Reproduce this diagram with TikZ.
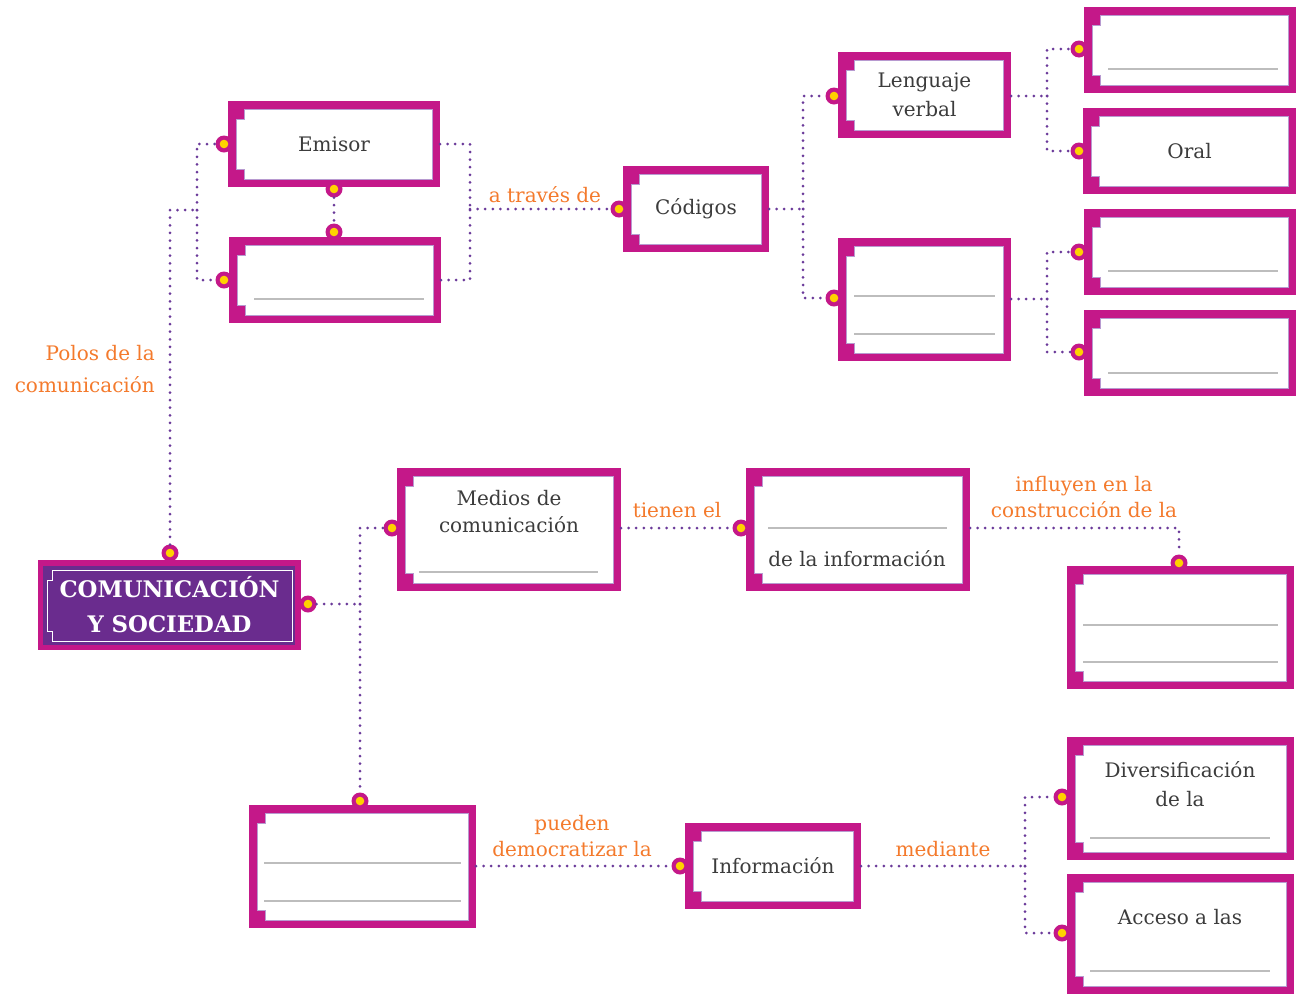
\documentclass[tikz,border=0pt]{standalone}
\usepackage{fontspec}
\setmainfont{DejaVu Serif}
\usetikzlibrary{calc}
\definecolor{mag}{HTML}{C41889}
\definecolor{purp}{HTML}{6A2C8E}
\definecolor{dotc}{HTML}{6B3A9A}
\definecolor{orng}{HTML}{F47A2C}
\definecolor{yel}{HTML}{FFD200}
\definecolor{txtc}{HTML}{3C3C3C}
\definecolor{lgray}{HTML}{BDBDBD}
\definecolor{inl}{HTML}{B89AD0}
\newcommand\bxf{\fontsize{20}{29}\selectfont}
\newcommand\lbf{\fontsize{20}{26}\selectfont}
\newcommand\rtf{\fontsize{22.8}{35}\selectfont\bfseries}
\tikzset{
  sz/.style 2 args={minimum width=#1pt, minimum height=#2pt},
  cbox/.style={rectangle, inner sep=0pt, outer sep=0pt, fill=mag, text=txtc,
    align=center, font=\bxf,
    path picture={
      \coordinate (q1) at (path picture bounding box.south west);
      \coordinate (q2) at (path picture bounding box.south east);
      \coordinate (q3) at (path picture bounding box.north east);
      \coordinate (q4) at (path picture bounding box.north west);
      \filldraw[fill=white, draw=inl, line width=0.6pt]
        ([shift={(16pt,8pt)}]q1) -- ([shift={(-8pt,8pt)}]q2) --
        ([shift={(-8pt,-8pt)}]q3) -- ([shift={(16pt,-8pt)}]q4) --
        ([shift={(16pt,-18pt)}]q4) -- ([shift={(8pt,-18pt)}]q4) --
        ([shift={(8pt,18pt)}]q1) -- ([shift={(16pt,18pt)}]q1) -- cycle;
    }},
  rootbox/.style={rectangle, inner sep=0pt, outer sep=0pt, fill=mag, text=white,
    align=center, font=\rtf,
    path picture={
      \coordinate (q1) at (path picture bounding box.south west);
      \coordinate (q2) at (path picture bounding box.south east);
      \coordinate (q3) at (path picture bounding box.north east);
      \coordinate (q4) at (path picture bounding box.north west);
      \fill[purp]
        ([shift={(5pt,5pt)}]q1) -- ([shift={(-6pt,5pt)}]q2) --
        ([shift={(-6pt,-6pt)}]q3) -- ([shift={(5pt,-6pt)}]q4) -- cycle;
      \draw[white, line width=0.9pt]
        ([shift={(14pt,9pt)}]q1) -- ([shift={(-9pt,9pt)}]q2) --
        ([shift={(-9pt,-10pt)}]q3) -- ([shift={(14pt,-10pt)}]q4) --
        ([shift={(14pt,-20pt)}]q4) -- ([shift={(9pt,-20pt)}]q4) --
        ([shift={(9pt,19pt)}]q1) -- ([shift={(14pt,19pt)}]q1) -- cycle;
    }},
  dot/.style={circle, fill=mag, minimum size=17pt, inner sep=0pt, outer sep=0pt,
    path picture={\fill[yel] (path picture bounding box.center) circle (4.3pt);}},
  conn/.style={draw=dotc, line width=3pt, line cap=round, dash pattern=on 0pt off 7.6pt},
  wline/.style={draw=lgray, line width=1.2pt},
  lab/.style={text=orng, font=\lbf, align=center, inner sep=0pt},
  btxt/.style={text=txtc, font=\bxf, align=center, inner sep=0pt}
}
\begin{document}
\begin{tikzpicture}[x=1pt, y=-1pt]
\useasboundingbox[fill=white] (0,0) rectangle (1298,994);

% boxes
\node[cbox, sz={212}{86}] (emisor) at (334,144) {Emisor};
\node[cbox, sz={212}{86}] (b2) at (335,280) {};
\node[cbox, sz={146}{86}] (cod) at (696,209) {Códigos};
\node[cbox, sz={173}{86}] (lv) at (924.5,95) {Lenguaje\\verbal};
\node[cbox, sz={212}{86}] (r1) at (1190,50) {};
\node[cbox, sz={213}{86}] (oral) at (1189.5,151) {Oral};
\node[cbox, sz={212}{86}] (r3) at (1190,252) {};
\node[cbox, sz={212}{86}] (r4) at (1190,353) {};
\node[cbox, sz={173}{123}] (b9) at (924.5,299.5) {};
\node[rootbox, sz={263}{90}] (root) at (169.5,605) {COMUNICACIÓN\\Y SOCIEDAD};
\node[cbox, sz={224}{123}] (med) at (509,529.5) {};
\node[cbox, sz={224}{123}] (dli) at (858,529.5) {};
\node[cbox, sz={227}{123}] (rb) at (1180.5,627.5) {};
\node[cbox, sz={227}{123}] (bl) at (362.5,866.5) {};
\node[cbox, sz={176}{86}] (inf) at (773,866) {Información};
\node[cbox, sz={227}{123}] (dv) at (1180.5,798.5) {};
\node[cbox, sz={227}{120}] (ac) at (1180.5,934) {};

% texts inside boxes
\node[btxt, font={\fontsize{20}{27}\selectfont}] (medt) at (509,511.5) {Medios de\\comunicación};
\node[btxt] (dlit) at (857,559) {de la información};
\node[btxt] (dvt) at (1180,784.5) {Diversificación\\de la};
\node[btxt] (act) at (1180,917) {Acceso a las};

% write-in lines
\draw[wline] (254,299) -- (424,299);
\draw[wline] (1108,69) -- (1278,69);
\draw[wline] (1108,271) -- (1278,271);
\draw[wline] (1108,373) -- (1278,373);
\draw[wline] (854,296) -- (995,296);
\draw[wline] (854,334) -- (995,334);
\draw[wline] (419,572) -- (598,572);
\draw[wline] (768,528) -- (947,528);
\draw[wline] (1083,625) -- (1278,625);
\draw[wline] (1083,662) -- (1278,662);
\draw[wline] (264,863) -- (461,863);
\draw[wline] (264,901) -- (461,901);
\draw[wline] (1090,838) -- (1270,838);
\draw[wline] (1090,971) -- (1270,971);

% dots
\node[dot] (rdt) at (170,553) {};
\node[dot] (rdr) at (308,604) {};
\node[dot] (emd) at (224,144) {};
\node[dot] (emb) at (334,189) {};
\node[dot] (b2t) at (334,232) {};
\node[dot] (b2d) at (224,280) {};
\node[dot] (codd) at (619,209) {};
\node[dot] (lvd) at (834,96) {};
\node[dot] (b9d) at (834,298) {};
\node[dot] (r1d) at (1079,49) {};
\node[dot] (orald) at (1079,151) {};
\node[dot] (r3d) at (1079,252) {};
\node[dot] (r4d) at (1079,352) {};
\node[dot] (medd) at (392,528) {};
\node[dot] (dlid) at (741,528) {};
\node[dot] (rbd) at (1179,563) {};
\node[dot] (bld) at (360,801) {};
\node[dot] (infd) at (680,866) {};
\node[dot] (dvd) at (1062,797) {};
\node[dot] (acd) at (1062,933) {};

% junctions
\coordinate (j1) at (197,210);
\coordinate (j2) at (470,209);
\coordinate (j3) at (803,209);
\coordinate (j4) at (1047,96);
\coordinate (j5) at (1047,299);
\coordinate (j6) at (360,604);
\coordinate (j7) at (1025,866);

% connectors
\draw[conn] (rdt) |- (j1);
\draw[conn] (j1) |- (emd);
\draw[conn] (j1) |- (b2d);
\draw[conn] (emb) -- (b2t);
\draw[conn] (emisor.east) -| (j2);
\draw[conn] (b2.east) -| (j2);
\draw[conn] (j2) -- (codd);
\draw[conn] (cod.east) -- (j3);
\draw[conn] (j3) |- (lvd);
\draw[conn] (j3) |- (b9d);
\draw[conn] (lv.east |- j4) -- (j4);
\draw[conn] (j4) |- (r1d);
\draw[conn] (j4) |- (orald);
\draw[conn] (b9.east |- j5) -- (j5);
\draw[conn] (j5) |- (r3d);
\draw[conn] (j5) |- (r4d);
\draw[conn] (rdr) -- (j6);
\draw[conn] (j6) |- (medd);
\draw[conn] (j6) -- (bld);
\draw[conn] (med.east |- medd) -- (dlid);
\draw[conn] (dli.east |- dlid) -| (rbd);
\draw[conn] (bl.east |- infd) -- (infd);
\draw[conn] (inf.east) -- (j7);
\draw[conn] (j7) |- (dvd);
\draw[conn] (j7) |- (acd);

% labels
\node[lab] (l1) at (545,195) {a través de};
\node[lab, anchor=east, align=right, font={\fontsize{20}{32}\selectfont}] (l2) at (155,369) {Polos de la\\comunicación};
\node[lab] (l3) at (677,510) {tienen el};
\node[lab] (l4) at (1084,497) {influyen en la\\construcción de la};
\node[lab] (l5) at (572,836) {pueden\\democratizar la};
\node[lab] (l6) at (943,849) {mediante};
\end{tikzpicture}
\end{document}
